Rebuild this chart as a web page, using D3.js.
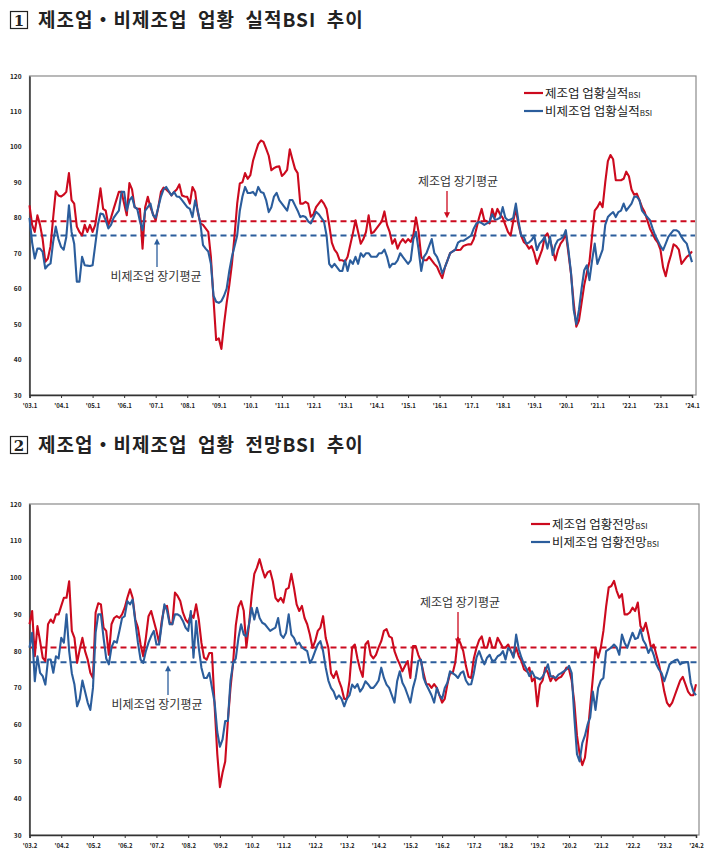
<!DOCTYPE html>
<html>
<head>
<meta charset="utf-8">
<script src="https://cdn.jsdelivr.net/npm/d3@7"></script>
<style>
  body { margin: 0; background: #fff; }
  svg { display: block; }
  text { font-family: "Noto Sans CJK KR", "Noto Sans", sans-serif; }
</style>
</head>
<body>
<div id="chart"></div>
<script>
// 실적 BSI, 월별 (2003.1 ~ 2024.1)
const mfgActual = [
  83.5,78,76,80.7,78,74,67.6,68.5,72,80,87.5,86.3,
  86,86.5,87.3,92.6,85,84,77.5,76,75,78,76,78,
  76,78,83,88.3,82.5,82,78,80,82.5,84.9,87.3,87.3,
  84,80.7,89.8,88,83,82.5,82.5,71.3,83,85.9,83,81,
  79.3,83,87.3,88.5,88,87.3,86.3,87.3,88,89.4,86.3,86,
  85.9,84,88.7,87.3,81.6,78.4,78,77,76,69,57,45.5,
  46,43,50,56,61,67,75,84,89.7,90,92.6,91,
  92,96,98.5,100.8,101.8,101.4,99.5,97.5,93.4,94,94.4,94.5,
  91.8,92.5,93.5,99.3,96.5,93.8,92.6,84,84,84.5,84,80.3,
  81,83,84,85,84,82.5,78,73,71,70,68,68,
  67.6,69,72.3,75.6,79.3,76,72.7,74,76,80.7,75.6,76,
  77,78,79,81.8,78,76,72.7,74,71.3,73,74,73,
  74,73.2,75,80.1,76,69,68,68,69,68,67,66.2,
  64.5,63,66,68,70,70.5,71,70.9,71,72,72.3,72.5,
  72.5,74,77,80,82.5,79.3,79,78.4,82.5,80.2,82.5,81,
  80,78,76,75,79,82.5,78,75,73.2,72.5,71.3,72,
  70,67,69,71,74.6,75.6,73.7,71,68,70.9,72.7,73.7,
  75.6,70,64,56,49.3,51,56,61,64.5,67.6,75,82,
  83,84.4,83,90,96,97.7,96.5,90.6,90.6,90.6,91,93,
  91.7,88,86.5,86.8,85,83,81.6,79.3,77,75.5,74,73,
  71,66,63.5,67,69.5,72.5,72,71,67,68,69,69.5,
  70.5
];
const nonMfgActual = [
  80,73,68.5,71.3,71.3,70.4,65.7,66.6,67.1,73.2,77.5,74,
  71.8,71,74.6,83.5,76,72.7,62,62,69,66.6,66.5,66.4,
  66.6,72.3,78,81.2,81,79.3,77,78,80,81,82,87.3,
  87.3,82,84.9,85.9,83,82.5,79,76.5,82,83,84,80.7,
  80,83,86,88,88.7,87.5,86.3,87.3,86,85.9,85,84,
  83,82.5,80.2,84.9,82,78.4,72.3,71.3,70.5,67,58,56.3,
  56,56.5,58,60,65,69,72,75,82,86,88.7,87,
  87,87.3,86.3,88.7,87.3,87,85,81.6,83,86,87,85,
  84,83,82,85,85,83.5,82,80.2,80.5,80.2,79,78.4,
  80,81.7,81,80,79,75,67,66,67,66,65,65,
  68,65,68,67,69,67,70,69,70,70,69,69,
  69,70,70,71,69,66,67,67,68,70,69,68,
  67,68,74,76,71,65,69,70,72,74,70,69,
  67,64.3,66,68,70,70.5,71,73,73.5,73.5,74,74.5,
  75,77,78.4,78.8,78.5,78,78.4,79,81,79.5,79.6,80,
  83,80,79.3,79.5,80,84,79,75,74.6,72.7,73,73.7,
  75,70.9,72.7,73.5,74.6,71.3,74.6,69.5,72.3,73.7,74,74.6,
  76.5,70.9,64.3,54,50,54,60,65.2,66.6,62.4,68,72.7,
  67,69,71,78,80.2,81,81.6,80.2,81.6,82,84,82,
  83,84,85.9,86,85,82,81,80.2,79.3,77,75,73.5,
  72,70.9,72.7,74.6,75.6,76.5,76.5,76,74.6,73.5,72.7,70,
  67.5
];
const actualAvg = { mfg: 79, nonMfg: 75 };

// 전망 BSI, 월별 (2003.2 ~ 2024.2)
const mfgOutlook = [
  87.3,90.9,78.6,86.8,82.7,78.2,77.3,87.3,88.6,87.7,90,
  90,92.3,94.5,94.5,99,85.5,83.6,76.8,80.5,83.6,80,77.7,
  74.1,72.7,90.5,93,92.7,86.4,85.5,79,87.3,89,89.5,89,
  90,91.8,94.5,96.8,94.5,88.6,86.4,81.8,78.6,83.6,89.5,90.9,
  88.2,85.5,82.3,88.2,92,92.3,87.7,87.3,95.9,95,93.6,90.5,
  88.6,87.7,90,89,92.7,88.6,82.3,78.2,77.7,79.5,79.5,65,
  52,43,47,50,61,70,77,87,92,93.6,91,81,
  87.3,95,101,102.7,105,102.3,100,101.4,101.8,99,94.5,93.5,
  94.5,93.2,96.8,97.2,101,97.2,92.7,90.9,92.3,89,87.3,84.5,
  80.9,82.7,85.5,86.4,89.5,83.6,80.9,74,72.7,74.5,72,70,
  67,67,72,81,81.8,78,75,73,81.8,82.7,79,78,
  79,81,82.7,85.5,86,84,83.6,80,78,76.4,74.5,76,
  77.3,72.7,81.4,81.4,79,77.3,74,71,71,70,71,70,
  68,66,67,71,74,74,77,83.6,82,80,76,73,
  72.7,78,80.9,83,84,81,80.9,83.6,81,80.9,83.6,82.3,
  80.9,81,81.8,80,78.6,80.9,78.6,77.3,75,74.5,75.5,71.8,
  72.7,65,70.9,72,75.5,74.1,71.8,73.2,72,72.7,73,74.1,
  75.5,75,72,66,57,52,49,51,57,65,72.7,80.9,
  78.2,80.9,85.5,92,97.3,97.7,99.1,96.4,94.5,95.5,90,90,
  90.5,91.8,90.9,93.2,86.8,85.5,87.7,84.5,80.9,81.8,79,76.4,
  73,69,66,65,66,68,70,72,73,71,69,68,
  68,71
];
const nonMfgOutlook = [
  80.9,85,71.8,78.6,74.1,73.2,70.9,77.7,77.7,74.1,78.6,
  78,83.6,82.3,90,80,74,70.9,65,67,72,69,66,
  64,70,85,90,90,83.6,78,76.4,81,82.7,82.3,85.5,
  89,89.5,93.6,92.7,94,88,82.3,77.7,76.8,80,82.3,84.1,
  85.5,81.8,81.8,87.3,92.7,91,87.3,87.3,90,90,89.5,88.2,
  86.4,85.5,90.9,78.2,88.2,80.9,75.5,72.7,72.7,74.1,70,66,
  58,54,56,61,61,72,76.8,78,83.6,87.3,84.5,84,
  87.3,91.8,88.6,91.8,89,87.7,87.3,86.4,85.5,86,86.4,89,
  84.5,83.6,85,90,84.5,83.6,81.8,82.3,81,80.5,80,76.8,
  78,80,81.8,82.7,80,75.5,72,70,69,67,68,67,
  65,67,68,70.9,70,71,69,70,71.8,71,70,70,
  70.9,72,75.5,72.7,70.9,70,68,66,71.8,74.5,71.4,70,
  68,66,70,72.7,77.3,77.7,72.7,70.9,69.5,68,66,70,
  68,67,70,71.4,74.5,74,73.5,72.7,74,74.5,72,70.9,
  71,74,78.2,80,78,76.4,78.2,79,77.3,77.5,78.6,79,
  80,77.7,80.9,80,78.2,84.5,80.5,78.2,76.4,75,73.2,74.5,
  73,72.7,72.3,73,74.5,76.4,73.2,73,72.7,73.6,74,74.5,
  75,76,74,62,52,50,55,57,60,62,69,64,
  70,72,72.7,80,80.5,81,81.8,81,79,84.5,82.3,80.9,
  83,85,83.3,83.6,85.9,83,81.8,79.5,80.9,79,76.4,75,
  74,71.8,74,76.4,77,77.5,77.7,76.4,76.8,77,77,71.4,
  69,68
];
const outlookAvg = { mfg: 81, nonMfg: 77 };

const yTicks = [30, 40, 50, 60, 70, 80, 90, 100, 110, 120];
const tickYears = d3.range(2003, 2025);

const RED = "#cc0a1e";
const BLUE = "#2b5d9c";

const svg = d3.select("#chart").append("svg")
  .attr("width", 710)
  .attr("height", 867);

svg.append("rect").attr("width", 710).attr("height", 867).attr("fill", "#fff");

function drawTitle(y, num, label) {
  const g = svg.append("g");
  g.append("rect")
    .attr("x", 10.5).attr("y", y - 15.5)
    .attr("width", 17).attr("height", 17)
    .attr("fill", "none").attr("stroke", "#222").attr("stroke-width", 1.2);
  g.append("text")
    .attr("x", 19).attr("y", y - 1.5)
    .attr("text-anchor", "middle")
    .style("font-family", "'DejaVu Serif', serif")
    .style("font-size", "15px")
    .style("font-weight", "bold")
    .attr("fill", "#222")
    .text(num);
  g.append("text")
    .attr("x", 38).attr("y", y)
    .style("font-size", "19px")
    .style("font-weight", "bold")
    .style("letter-spacing", "1px")
    .style("white-space", "pre")
    .attr("fill", "#222")
    .text(label);
}

function drawChart(opt) {
  const x = d3.scaleLinear().domain([0, 252]).range([opt.left, opt.lastTick]);
  const y = d3.scaleLinear().domain([30, 120]).range([opt.bottom, opt.top]);
  const g = svg.append("g");

  // frame
  g.append("rect")
    .attr("x", opt.left).attr("y", opt.top)
    .attr("width", opt.right - opt.left).attr("height", opt.bottom - opt.top)
    .attr("fill", "none").attr("stroke", "#8a8a8a").attr("stroke-width", 1.2);

  // y axis
  const yAxis = g.append("g")
    .attr("transform", `translate(${opt.left},0)`)
    .call(d3.axisLeft(y).tickValues(yTicks).tickSize(0).tickPadding(8));
  yAxis.select(".domain").attr("stroke", "#333").attr("stroke-width", 1.5);
  yAxis.selectAll("text")
    .style("font-size", "6.5px").style("font-weight", "bold").attr("fill", "#222");

  // x axis
  const xAxis = g.append("g")
    .attr("transform", `translate(0,${opt.bottom})`)
    .call(d3.axisBottom(x)
      .tickValues(tickYears.map((d, i) => i * 12))
      .tickSize(3).tickPadding(6)
      .tickFormat((d, i) => "'" + String(tickYears[i] % 100).padStart(2, "0") + "." + opt.startMonth));
  xAxis.select(".domain").attr("stroke", "#333").attr("stroke-width", 1.5);
  xAxis.selectAll(".tick line").attr("stroke", "#333").attr("stroke-width", 1);
  xAxis.selectAll("text")
    .style("font-size", "6px").style("font-weight", "bold").attr("fill", "#222");

  // average lines
  [[opt.avg.mfg, RED], [opt.avg.nonMfg, BLUE]].forEach(([v, c]) => {
    g.append("line")
      .attr("x1", opt.left + 1).attr("x2", opt.right - 1)
      .attr("y1", y(v)).attr("y2", y(v))
      .attr("stroke", c).attr("stroke-width", 2)
      .attr("stroke-dasharray", "6,4");
  });

  const line = d3.line().x((d, i) => x(i)).y(d => y(d));
  g.append("path").datum(opt.mfg)
    .attr("fill", "none").attr("stroke", RED).attr("stroke-width", 2.1)
    .attr("stroke-linejoin", "round").attr("d", line);
  g.append("path").datum(opt.nonMfg)
    .attr("fill", "none").attr("stroke", BLUE).attr("stroke-width", 2.1)
    .attr("stroke-linejoin", "round").attr("d", line);

  // annotations
  const ann = g.append("g").style("font-size", "12px");
  ann.append("text")
    .attr("x", opt.mfgNote.x).attr("y", opt.mfgNote.y)
    .attr("text-anchor", "middle").attr("fill", "#333")
    .text("제조업 장기평균");
  g.append("line")
    .attr("x1", opt.mfgNote.ax).attr("x2", opt.mfgNote.ax)
    .attr("y1", opt.mfgNote.y + 5).attr("y2", y(opt.avg.mfg) - 8)
    .attr("stroke", RED).attr("stroke-width", 1.3);
  g.append("path")
    .attr("d", `M${opt.mfgNote.ax - 3},${y(opt.avg.mfg) - 9} L${opt.mfgNote.ax + 3},${y(opt.avg.mfg) - 9} L${opt.mfgNote.ax},${y(opt.avg.mfg) - 3} Z`)
    .attr("fill", RED);

  ann.append("text")
    .attr("x", opt.nonNote.x).attr("y", opt.nonNote.y)
    .attr("text-anchor", "middle").attr("fill", "#333")
    .text("비제조업 장기평균");
  g.append("line")
    .attr("x1", opt.nonNote.ax).attr("x2", opt.nonNote.ax)
    .attr("y1", opt.nonNote.y - 14).attr("y2", y(opt.avg.nonMfg) + 8)
    .attr("stroke", BLUE).attr("stroke-width", 1.3);
  g.append("path")
    .attr("d", `M${opt.nonNote.ax - 3},${y(opt.avg.nonMfg) + 9} L${opt.nonNote.ax + 3},${y(opt.avg.nonMfg) + 9} L${opt.nonNote.ax},${y(opt.avg.nonMfg) + 3} Z`)
    .attr("fill", BLUE);

  // legend
  const lg = g.append("g").attr("transform", `translate(${opt.legend.x},${opt.legend.y})`);
  [[opt.legendLabels[0], RED], [opt.legendLabels[1], BLUE]].forEach(([lab, c], i) => {
    const row = lg.append("g").attr("transform", `translate(0,${i * 18})`);
    row.append("line").attr("x1", 0).attr("x2", 19).attr("y1", 0).attr("y2", 0)
      .attr("stroke", c).attr("stroke-width", 2.2);
    const t = row.append("text").attr("x", 21).attr("y", 4.5)
      .style("font-size", "12.5px").attr("fill", "#222");
    t.append("tspan").text(lab);
    t.append("tspan").style("font-size", "8px").text("BSI");
  });
}

drawTitle(27, "1", "제조업・비제조업  업황  실적BSI  추이");
drawTitle(452, "2", "제조업・비제조업  업황  전망BSI  추이");

drawChart({
  left: 29.5, right: 696, top: 76, bottom: 395, lastTick: 692,
  startMonth: 1,
  mfg: mfgActual, nonMfg: nonMfgActual, avg: actualAvg,
  mfgNote: { x: 458, y: 186, ax: 447 },
  nonNote: { x: 156, y: 281, ax: 157 },
  legend: { x: 524, y: 93 },
  legendLabels: ["제조업 업황실적", "비제조업 업황실적"]
});

drawChart({
  left: 29.5, right: 699, top: 504, bottom: 835, lastTick: 696,
  startMonth: 2,
  mfg: mfgOutlook, nonMfg: nonMfgOutlook, avg: outlookAvg,
  mfgNote: { x: 460, y: 607, ax: 458 },
  nonNote: { x: 157, y: 709, ax: 168 },
  legend: { x: 531, y: 524 },
  legendLabels: ["제조업 업황전망", "비제조업 업황전망"]
});
</script>
</body>
</html>
